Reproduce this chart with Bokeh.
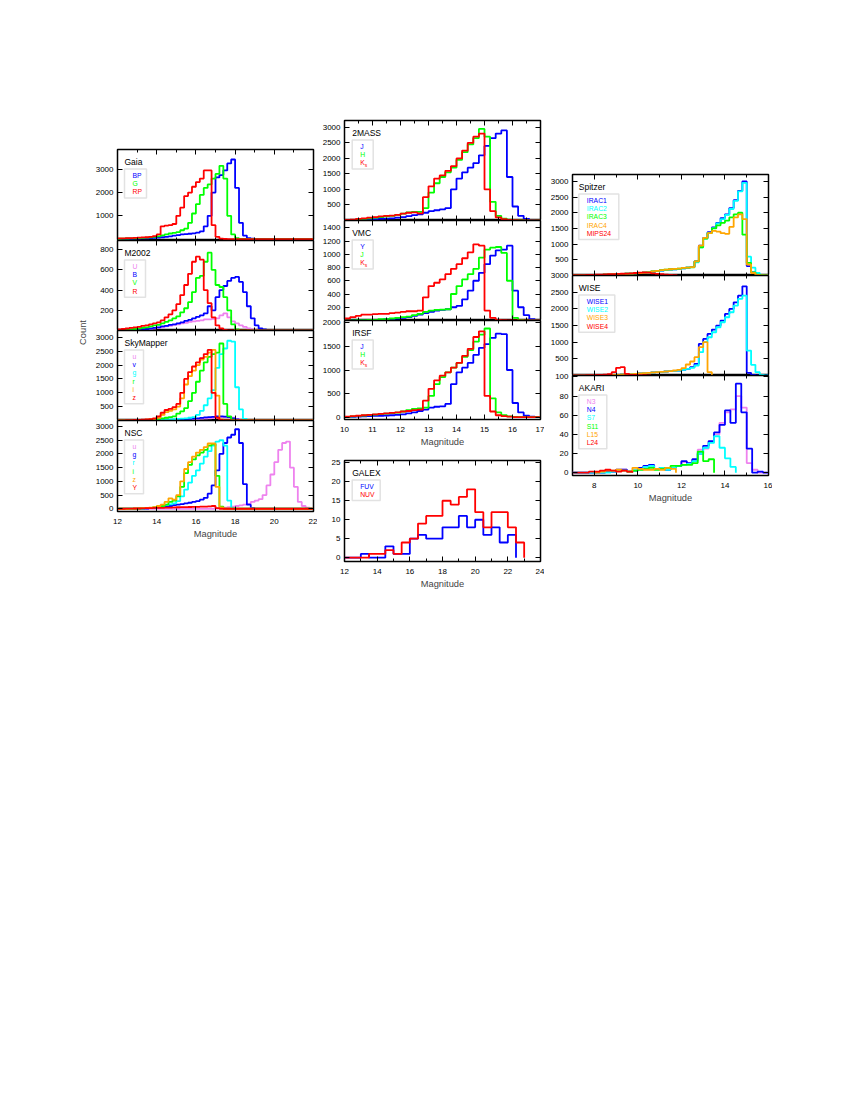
import numpy as np
from bokeh.plotting import figure
from bokeh.models import (Range1d, LinearAxis, FixedTicker, SingleIntervalTicker,
                          Label, BoxAnnotation, Spacer)
from bokeh.layouts import row, column
from bokeh.embed import file_html
from bokeh.resources import INLINE

# ---------------------------------------------------------------- data
# Gaia: bins of 0.2 mag starting at 12.0
GAIA_START, GAIA_W = 12.0, 0.2
GAIA_BP = [10,10,15,15,20,25,30,35,40,50, 60,80,100,120,150,170,200,210,230,250,
           280,330,550,1000,2000,2650,2750,2950,3250,3420, 2200,700,150,40,15,10,5,5,0,0,
           0,0,0,0,0,0,0,0,0,0]
GAIA_G = [15,20,25,30,35,40,50,60,80,100, 120,160,200,240,270,300,380,450,700,1100,
          1500,1900,2200,2350,2600,2800,3150,2600,1000,200, 40,10,5,0,0,0,0,0,0,0,
          0,0,0,0,0,0,0,0,0,0]
GAIA_RP = [30,30,40,45,50,60,70,80,100,130, 200,550,580,600,650,1000,1350,1850,2000,2250,
           2450,2600,2950,2950,600,100,20,5,0,0, 0,0,0,0,0,0,0,0,0,0,
           0,0,0,0,0,0,0,0,0,0]

# M2002
M_START, M_W = 12.0, 0.2
M_U = [0,0,0,5,5,5,10,10,15,20, 25,30,40,45,55,60,70,75,85,90,
       95,100,110,110,115,120,150,170,130,90, 70,50,35,20,10,5,0,0,0,0,
       0,0,0,0,0,0,0,0,0,0]
M_B = [0,0,5,5,10,10,15,15,20,25, 30,40,45,55,60,70,80,95,105,120,
       135,150,170,240,200,330,400,440,490,520, 530,480,380,240,120,50,20,10,5,0,
       0,0,0,0,0,0,0,0,0,0]
M_V = [5,5,10,10,15,20,25,30,40,50, 55,70,85,100,120,140,180,220,280,380,
       520,540,680,770,600,450,430,330,200,60, 10,0,0,0,0,0,0,0,0,0,
       0,0,0,0,0,0,0,0,0,0]
M_R = [10,15,20,25,30,35,45,50,60,70, 80,100,130,160,200,260,350,450,560,680,
       730,700,400,270,130,50,20,5,0,0, 0,0,0,0,0,0,0,0,0,0,
       0,0,0,0,0,0,0,0,0,0]

# SkyMapper
SM_START, SM_W = 12.0, 0.2
SM_u = [0,0,0,0,0,0,0,0,0,5, 5,10,10,15,15,20,25,30,35,40,
        50,60,70,80,90,100,110,120,115,100, 60,20,5,0,0,0,0,0,0,0,
        0,0,0,0,0,0,0,0,0,0]
SM_v = [0,0,0,0,0,0,0,0,5,5, 10,10,15,20,25,30,40,50,60,70,
        80,95,110,120,130,150,150,140,120,80, 40,10,0,0,0,0,0,0,0,0,
        0,0,0,0,0,0,0,0,0,0]
SM_g = [0,0,0,0,0,5,5,5,10,15, 20,25,30,40,50,60,70,80,100,120,
        200,350,550,800,1100,1900,2400,2600,2880,2850, 1200,400,60,10,0,0,0,0,0,0,
        0,0,0,0,0,0,0,0,0,0]
SM_r = [0,0,0,0,5,5,10,20,30,40, 60,80,100,120,150,250,330,450,700,1000,
        1400,1800,2100,2300,2400,2450,2780,600,150,30, 5,0,0,0,0,0,0,0,0,0,
        0,0,0,0,0,0,0,0,0,0]
SM_i = [0,0,5,5,10,15,20,30,40,60, 100,200,300,350,400,500,800,1300,1600,1800,
        2000,2200,2300,2450,2550,900,40,0,0,0, 0,0,0,0,0,0,0,0,0,0,
        0,0,0,0,0,0,0,0,0,0]
SM_z = [5,5,10,10,20,25,30,40,50,80, 150,280,380,420,480,600,1000,1500,1750,1950,
        2100,2250,2400,2550,1000,100,20,0,0,0, 0,0,0,0,0,0,0,0,0,0,
        0,0,0,0,0,0,0,0,0,0]

# NSC
NSC_START, NSC_W = 12.0, 0.2
NSC_u = [0,0,0,0,0,0,0,0,0,0, 0,0,0,0,0,0,0,0,0,0,
         0,0,0,0,0,10,20,40,60,80, 100,120,150,180,250,300,350,500,850,1250,
         1700,2150,2400,2450,1500,800,250,100,40,10]
NSC_g = [0,0,0,0,0,5,5,10,20,30, 50,60,80,100,130,150,170,200,220,250,
         280,330,400,550,850,1400,2000,2400,2600,2700, 2900,2400,900,150,30,5,0,0,0,0,
         0,0,0,0,0,0,0,0,0,0]
NSC_r = [0,0,0,0,5,5,10,20,30,50, 80,100,130,160,200,280,450,700,950,1200,
         1400,1650,1900,2100,2300,2450,2500,2300,300,30, 0,0,0,0,0,0,0,0,0,0,
         0,0,0,0,0,0,0,0,0,0]
NSC_i = [0,0,0,5,5,10,15,20,30,50, 70,100,150,250,300,450,800,1300,1600,1800,
         1950,2050,2150,2300,2350,1200,80,0,0,0, 0,0,0,0,0,0,0,0,0,0,
         0,0,0,0,0,0,0,0,0,0]
NSC_z = [0,0,0,5,10,15,20,30,40,60, 100,150,250,380,330,500,1000,1450,1700,1900,
         2050,2150,2250,2380,2380,800,50,0,0,0, 0,0,0,0,0,0,0,0,0,0,
         0,0,0,0,0,0,0,0,0,0]
NSC_Y = [0,0,5,5,10,10,15,20,25,30, 30,35,40,45,50,55,60,60,65,70,
         70,75,80,90,100,20,0,0,0,0, 0,0,0,0,0,0,0,0,0,0,
         0,0,0,0,0,0,0,0,0,0]

# 2MASS: bins of 0.2 mag starting at 10.0
TM_START, TM_W = 10.0, 0.2
TM_J = [5,10,15,20,30,40,50,60,70,90, 110,140,170,200,250,300,330,360,400,1000,
        1350,1550,1700,1850,2100,2400,2650,2800,2900,1400, 450,150,50,20,5]
TM_H = [10,20,30,50,70,90,110,130,150,180, 220,260,280,280,400,900,1200,1400,1550,1700,
        1950,2200,2450,2650,2950,2700,600,150,60,30, 15,10,5,0,0]
TM_K = [20,30,50,70,90,110,130,150,160,180, 220,250,260,230,750,1100,1350,1450,1600,1750,
        2000,2250,2500,2700,2800,1000,300,100,40,20, 10,5,0,0,0]

# VMC
VMC_START, VMC_W = 10.0, 0.2
VMC_Y = [0,0,0,5,5,10,10,20,20,30, 40,50,70,90,110,130,150,160,170,200,
         220,320,450,600,720,850,980,1060,1070,1130, 450,200,80,20,5]
VMC_J = [0,0,5,5,10,10,20,20,30,40, 50,60,80,100,130,150,160,165,170,400,
         520,620,700,780,950,1070,1100,1110,1020,600, 40,10,0,0,0]
VMC_K = [30,50,70,90,90,95,100,100,110,120, 130,140,140,150,350,520,570,620,700,780,
         850,940,1030,1150,1130,150,40,10,5,0, 0,0,0,0,0]

# IRSF
IR_START, IR_W = 10.0, 0.2
IR_J = [0,5,10,15,20,25,30,35,40,50, 60,80,100,130,160,200,220,230,280,700,
        950,1050,1150,1320,1470,1550,1680,1770,1760,1000, 300,100,30,10,0]
IR_H = [5,15,25,35,45,55,65,75,85,95, 120,150,175,185,200,450,700,850,950,1050,
        1150,1280,1420,1600,1750,1880,400,100,40,15, 5,0,0,0,0]
IR_K = [10,20,30,40,50,60,70,80,90,100, 120,130,150,160,350,600,780,880,950,1050,
        1150,1300,1450,1700,1820,450,120,40,20,10, 0,0,0,0,0]

# GALEX: bins of 0.5 mag starting at 12.0
GX_START, GX_W = 12.0, 0.5
GX_FUV = [0,0,1,0,0,3,1,1,5,6,5,5,8,8,11,8,10,6,8,4,6]
GX_NUV = [0,0,0,1,1,2,1,4,5,9,11,11,15,14,16,18,12,8,12,12,8,4]

# Spitzer: bins of 0.2 mag starting at 7.0
SP_START, SP_W = 7.0, 0.2
SP_I1 = [0,0,5,10,10,15,20,25,30,35, 40,50,55,60,70,80,90,100,120,140,
         160,180,190,200,210,230,250,270,450,950, 1200,1380,1530,1680,1830,1950,2150,2400,2700,3000,
         300,100,40,15,5]
SP_I2 = [0,0,5,10,10,15,20,25,30,35, 40,50,55,60,70,80,90,100,120,140,
         160,180,190,200,210,230,250,270,420,900, 1180,1360,1510,1660,1800,1930,2120,2380,2680,2950,
         600,250,80,20,5]
SP_I3 = [0,0,5,10,10,15,20,25,30,35, 40,50,55,60,70,80,90,100,130,150,
         170,190,200,210,220,240,250,260,450,900, 1180,1350,1500,1600,1680,1750,1850,1950,2000,1300,
         400,100,30,10,0]
SP_I4 = [0,0,5,10,10,15,20,25,30,35, 40,50,55,60,70,80,90,100,130,150,
         170,190,200,210,220,240,250,270,450,950, 1200,1350,1420,1400,1350,1330,1550,1850,1950,1800,
         350,80,20,5,0]
SP_M24 = [10,15,15,20,20,25,30,35,40,45, 50,55,60,70,80,90,95,90,70,50, 40,30,20,10]

# WISE
WI_START, WI_W = 7.0, 0.2
WI_1 = [0,0,0,5,5,10,10,15,15,20, 20,30,30,40,40,60,70,80,90,100,
        110,120,130,140,150,170,200,250,350,950, 1100,1250,1380,1500,1650,1850,2000,2200,2400,2680,
        80,20,0,0,0]
WI_2 = [0,0,0,5,5,10,10,15,15,20, 20,30,30,40,40,60,70,80,90,100,
        110,120,130,140,150,170,200,230,300,700, 1000,1150,1300,1450,1600,1750,1900,2100,2300,2400,
        750,320,100,20,0]
WI_3 = [0,0,0,0,0,5,5,10,10,20, 20,30,30,40,50,60,70,80,90,100,
        110,120,130,150,170,220,330,420,550,850, 1000,100]
WI_4 = [0,5,5,10,10,15,20,25,40,100, 230,250,50,20,20,10,10,5]

# AKARI: bins of 0.25 mag
AK_W = 0.25
AK_N3 = [0,0,0,0,0,0,1,1,2,3, 1,2,4,6,7,4,5,3,5,7, 11,10,13,24,25,32,40,52,63,66, 80,68,10,3,0,0]
AK_N4 = [0,0,0,0,0,0,1,1,3,3, 1,2,5,7,8,4,5,3,5,7, 12,10,14,20,28,33,42,50,65,52, 93,63,25,0,1,0]
AK_S7 = [0,0,0,0,0,0,0,1,2,2, 1,2,4,6,7,4,5,3,5,7, 8,9,12,20,26,31,38,26,15,6]
AK_S11 = [1,2,3,4,5,3,4,5,7,7,8,8,10,22,12,14]
AK_L15 = [0,1,2,2,3,2,1,5,4,3,3,4,3,5,4]
AK_L24 = [0,0,0,1,1,2,3,2,1,2,1]
AK_START = {"N3": 7.0, "N4": 7.0, "S7": 7.0, "S11": 9.5, "L15": 8.0, "L24": 7.0}

# ---------------------------------------------------------------- style
FONT = "Liberation Sans"
VIOLET, BLUE, GREEN = "#EE82EE", "#0000FF", "#00FF00"
RED, CYAN, ORANGE = "#FF0000", "#00FFFF", "#FFA500"
FW = 196
TICK_FS = "8px"
LAB_FS = "9.3px"
PAGE = 8  # the page margin (the Bokeh template has none of its own)


def style_axis(ax, labels, standoff):
    ax.axis_line_color = None
    ax.major_tick_in = 5
    ax.major_tick_out = 0
    ax.minor_tick_in = 3
    ax.minor_tick_out = 0
    ax.major_tick_line_color = "black"
    ax.minor_tick_line_color = "black"
    if labels:
        ax.major_label_text_font = FONT
        ax.major_label_text_font_size = TICK_FS
        ax.major_label_text_color = "black"
        ax.major_label_standoff = standoff
    else:
        # mirrored axis: ticks only, no labels drawn and no room taken
        ax.major_label_text_color = None
        ax.major_label_standoff = 0


def make_panel(xr, yr, yticks, xint, xminor, fh, top, bottom, left, overlap, xlabel):
    p = figure(width=left + FW + 4, height=top + fh + bottom,
               x_range=Range1d(*xr), y_range=Range1d(*yr),
               x_axis_location=None, y_axis_location=None,
               toolbar_location=None, output_backend="svg",
               min_border_left=left, min_border_right=4,
               min_border_top=top, min_border_bottom=bottom)
    p.grid.visible = False
    p.outline_line_color = "black"
    p.outline_line_width = 1.5
    p.background_fill_color = "white"
    p.border_fill_color = None
    if overlap:
        p.margin = (-top, 0, 0, 0)
    for side in ("below", "above"):
        ax = LinearAxis(ticker=SingleIntervalTicker(interval=xint, num_minor_ticks=xminor))
        show = (side == "below" and xlabel)
        style_axis(ax, show, 7)
        if show:
            ax.axis_label = "Magnitude"
            ax.axis_label_text_font = FONT
            ax.axis_label_text_font_size = LAB_FS
            ax.axis_label_text_font_style = "normal"
            ax.axis_label_standoff = 2
        p.add_layout(ax, side)
    for side in ("left", "right"):
        ax = LinearAxis(ticker=FixedTicker(ticks=yticks, minor_ticks=[]))
        style_axis(ax, side == "left", 4)
        p.add_layout(ax, side)
    return p


def hist(p, start, width, counts, color):
    edges = start + width * np.arange(len(counts) + 1)
    ys = list(counts) + [0]
    p.step(x=edges, y=ys, mode="after", line_color=color, line_width=1.8)


def text(p, fh, dx, dy, s, color="black", size="8.5px", align="left"):
    x0, x1 = p.x_range.start, p.x_range.end
    y0, y1 = p.y_range.start, p.y_range.end
    p.add_layout(Label(x=x0 + dx / FW * (x1 - x0), y=y1 - dy / fh * (y1 - y0),
                       text=s, text_color=color, text_font=FONT, text_font_size=size,
                       text_baseline="middle", text_align=align))


def legend(p, fh, title, items, bw, dx0=7.0):
    x0, x1 = p.x_range.start, p.x_range.end
    y0, y1 = p.y_range.start, p.y_range.end
    X = lambda d: x0 + d / FW * (x1 - x0)
    Y = lambda d: y1 - d / fh * (y1 - y0)
    text(p, fh, dx0, 12.5, title, size="8.5px")
    n = len(items)
    bh = 8.3 * n + 4
    p.add_layout(BoxAnnotation(left=X(dx0), right=X(dx0 + bw), top=Y(19.5), bottom=Y(19.5 + bh),
                               fill_color="white", fill_alpha=1.0,
                               line_color="#a0a0a0", line_width=1.5))
    for i, (s, c) in enumerate(items):
        dy = 19.5 + 6.3 + 8.3 * i
        if s == "Ks":
            text(p, fh, dx0 + 8, dy, "K", color=c, size="6.8px")
            text(p, fh, dx0 + 12.6, dy + 1.8, "s", color=c, size="5px")
        else:
            text(p, fh, dx0 + 8, dy, s, color=c, size="6.8px")


# ---------------------------------------------------------------- left column
L_LEFT = 28
gaia = make_panel((12, 22), (-60, 3850), [1000, 2000, 3000], 2, 2, 91, 2, 0, L_LEFT, False, False)
for s, c in ((GAIA_BP, BLUE), (GAIA_G, GREEN), (GAIA_RP, RED)):
    hist(gaia, GAIA_START, GAIA_W, s, c)
legend(gaia, 91, "Gaia", [("BP", BLUE), ("G", GREEN), ("RP", RED)], 22)

m2002 = make_panel((12, 22), (0, 890), [200, 400, 600, 800], 2, 2, 90, 6, 0, L_LEFT, True, False)
for s, c in ((M_U, VIOLET), (M_B, BLUE), (M_V, GREEN), (M_R, RED)):
    hist(m2002, M_START, M_W, s, c)
legend(m2002, 90, "M2002", [("U", VIOLET), ("B", BLUE), ("V", GREEN), ("R", RED)], 21)

sky = make_panel((12, 22), (0, 3250), [500, 1000, 1500, 2000, 2500, 3000], 2, 2, 90, 6, 0, L_LEFT, True, False)
for s, c in ((SM_u, VIOLET), (SM_v, BLUE), (SM_g, CYAN), (SM_r, GREEN), (SM_i, ORANGE), (SM_z, RED)):
    hist(sky, SM_START, SM_W, s, c)
legend(sky, 90, "SkyMapper", [("u", VIOLET), ("v", BLUE), ("g", CYAN), ("r", GREEN),
                              ("i", ORANGE), ("z", RED)], 19)

nsc = make_panel((12, 22), (-100, 3220), [0, 500, 1000, 1500, 2000, 2500, 3000], 2, 2, 91, 6, 36, L_LEFT, True, True)
for s, c in ((NSC_u, VIOLET), (NSC_g, BLUE), (NSC_r, CYAN), (NSC_i, GREEN), (NSC_z, ORANGE), (NSC_Y, RED)):
    hist(nsc, NSC_START, NSC_W, s, c)
legend(nsc, 91, "NSC", [("u", VIOLET), ("g", BLUE), ("r", CYAN), ("i", GREEN),
                        ("z", ORANGE), ("Y", RED)], 19)

countfig = figure(width=17, height=362, x_range=Range1d(0, 17), y_range=Range1d(0, 362),
                  x_axis_location=None, y_axis_location=None, toolbar_location=None,
                  output_backend="svg", min_border=0)
countfig.grid.visible = False
countfig.outline_line_color = None
countfig.background_fill_color = None
countfig.border_fill_color = None
countfig.add_layout(Label(x=10, y=179, text="Count", angle=np.pi / 2, text_align="center",
                          text_baseline="middle", text_font=FONT, text_font_size=LAB_FS))

# ---------------------------------------------------------------- middle column
M_LEFT = 27
tmass = make_panel((10, 17), (0, 3220), [500, 1000, 1500, 2000, 2500, 3000], 1, 2, 100, 2, 0, M_LEFT, False, False)
for s, c in ((TM_J, BLUE), (TM_H, GREEN), (TM_K, RED)):
    hist(tmass, TM_START, TM_W, s, c)
legend(tmass, 100, "2MASS", [("J", BLUE), ("H", GREEN), ("Ks", RED)], 21, 7.7)

vmc = make_panel((10, 17), (0, 1510), [200, 400, 600, 800, 1000, 1200, 1400], 1, 2, 100, 6, 0, M_LEFT, True, False)
for s, c in ((VMC_Y, BLUE), (VMC_J, GREEN), (VMC_K, RED)):
    hist(vmc, VMC_START, VMC_W, s, c)
legend(vmc, 100, "VMC", [("Y", BLUE), ("J", GREEN), ("Ks", RED)], 21, 7.7)

irsf = make_panel((10, 17), (-50, 2050), [0, 500, 1000, 1500, 2000], 1, 2, 99, 6, 36, M_LEFT, True, True)
for s, c in ((IR_J, BLUE), (IR_H, GREEN), (IR_K, RED)):
    hist(irsf, IR_START, IR_W, s, c)
legend(irsf, 99, "IRSF", [("J", BLUE), ("H", GREEN), ("Ks", RED)], 21, 7.7)

galex = make_panel((12, 24), (-1, 25.6), [0, 5, 10, 15, 20, 25], 2, 2, 101, 2, 36, M_LEFT, False, True)
for s, c in ((GX_FUV, BLUE), (GX_NUV, RED)):
    hist(galex, GX_START, GX_W, s, c)
legend(galex, 101, "GALEX", [("FUV", BLUE), ("NUV", RED)], 28, 7.7)

# ---------------------------------------------------------------- right column
R_LEFT = 28
spitzer = make_panel((7, 16), (0, 3220), [500, 1000, 1500, 2000, 2500, 3000], 2, 2, 101, 2, 0, R_LEFT, False, False)
for s, c in ((SP_I1, BLUE), (SP_I2, CYAN), (SP_I3, GREEN), (SP_I4, ORANGE), (SP_M24, RED)):
    hist(spitzer, SP_START, SP_W, s, c)
legend(spitzer, 101, "Spitzer", [("IRAC1", BLUE), ("IRAC2", CYAN), ("IRAC3", GREEN),
                                 ("IRAC4", ORANGE), ("MIPS24", RED)], 40, 6.3)

wise = make_panel((7, 16), (0, 3005), [500, 1000, 1500, 2000, 2500, 3000], 2, 2, 100, 6, 0, R_LEFT, True, False)
for s, c in ((WI_1, BLUE), (WI_2, CYAN), (WI_3, ORANGE), (WI_4, RED)):
    hist(wise, WI_START, WI_W, s, c)
legend(wise, 100, "WISE", [("WISE1", BLUE), ("WISE2", CYAN), ("WISE3", ORANGE), ("WISE4", RED)], 36, 6.3)

akari = make_panel((7, 16), (-3, 101.5), [0, 20, 40, 60, 80, 100], 2, 2, 100, 6, 36, R_LEFT, True, True)
for name, s, c in (("N3", AK_N3, VIOLET), ("N4", AK_N4, BLUE), ("S7", AK_S7, CYAN),
                   ("S11", AK_S11, GREEN), ("L15", AK_L15, ORANGE), ("L24", AK_L24, RED)):
    hist(akari, AK_START[name], AK_W, s, c)
legend(akari, 100, "AKARI", [("N3", VIOLET), ("N4", BLUE), ("S7", CYAN), ("S11", GREEN),
                             ("L15", ORANGE), ("L24", RED)], 28, 6.3)

# ---------------------------------------------------------------- layout
countcol = column(Spacer(width=17, height=PAGE + 141), countfig)
leftcol = column(Spacer(width=228, height=PAGE + 139), gaia, m2002, sky, nsc)
midcol = column(Spacer(width=227, height=PAGE + 110), tmass, vmc, irsf, Spacer(width=227, height=3), galex)
rightcol = column(Spacer(width=228, height=PAGE + 164), spitzer, wise, akari)
layout = row(Spacer(width=PAGE + 64, height=10), countcol, leftcol, midcol, rightcol)

open("out.html", "w").write(file_html(layout, INLINE, title="Magnitude histograms"))
